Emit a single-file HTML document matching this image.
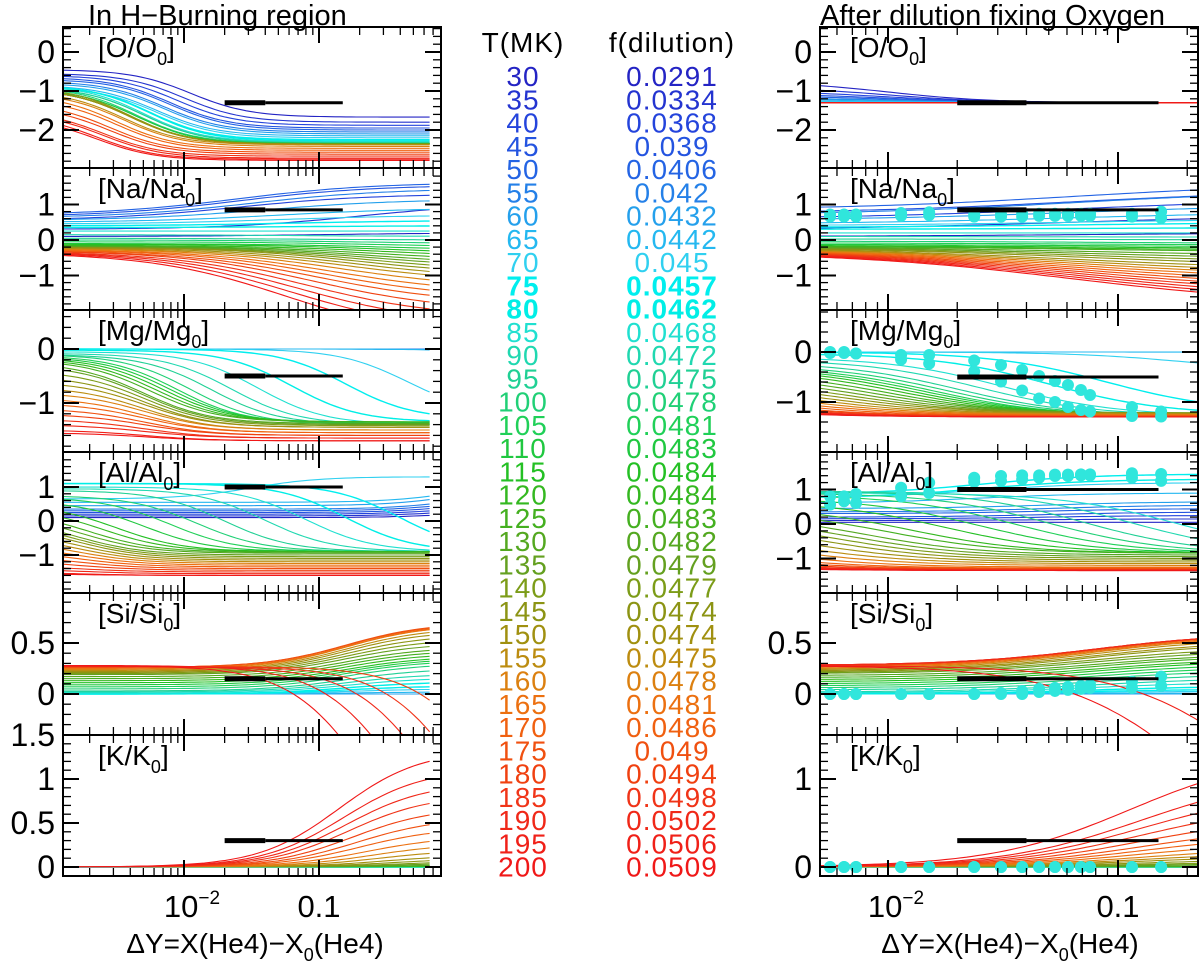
<!DOCTYPE html>
<html><head><meta charset="utf-8">
<style>
html,body{margin:0;padding:0;background:#fff;}
svg{display:block;font-family:"Liberation Sans",sans-serif;}
</style></head>
<body>
<svg id="chart" width="1200" height="969" viewBox="0 0 1200 969" xmlns="http://www.w3.org/2000/svg">
<text x="88" y="25" font-size="29">In H−Burning region</text>
<text x="820" y="25" font-size="29">After dilution fixing Oxygen</text>
<text x="523" y="52" font-size="28" text-anchor="middle" letter-spacing="1">T(MK)</text>
<text x="672" y="52" font-size="28" text-anchor="middle" letter-spacing="1">f(dilution)</text>
<text x="255" y="953" font-size="28" text-anchor="middle">ΔY=X(He4)−X<tspan font-size="18" dy="8">0</tspan><tspan dy="-8">(He4)</tspan></text>
<text x="1010" y="953" font-size="28" text-anchor="middle">ΔY=X(He4)−X<tspan font-size="18" dy="8">0</tspan><tspan dy="-8">(He4)</tspan></text>
<g id="root"></g>
</svg>
<script>
// ---- data ----
const temps = [30,35,40,45,50,55,60,65,70,75,80,85,90,95,100,105,110,115,120,125,130,135,140,145,150,155,160,165,170,175,180,185,190,195,200];
const fdil = ["0.0291","0.0334","0.0368","0.039","0.0406","0.042","0.0432","0.0442","0.045","0.0457","0.0462","0.0468","0.0472","0.0475","0.0478","0.0481","0.0483","0.0484","0.0484","0.0483","0.0482","0.0479","0.0477","0.0474","0.0474","0.0475","0.0478","0.0481","0.0486","0.049","0.0494","0.0498","0.0502","0.0506","0.0509"];
const colors = ["#2424c4","#2434d0","#2444dc","#2454e0","#2464e4","#2480e8","#24a0ec","#24b8f0","#30d0f0","#00eeee","#00eee6","#20e0d0","#20d8b0","#20d094","#20d076","#20d058","#20c840","#24c024","#34b820","#44b020","#54a820","#64a020","#7c9c18","#8c9414","#a09010","#bc8c10","#dc8010","#ec7010","#f06010","#f05010","#f04010","#f03418","#f02818","#f02018","#f01818"];

// left panels: start value, end value, transition centre (log10 ΔY)
const oS = [-0.45,-0.55,-0.6,-0.65,-0.7,-0.75,-0.8,-0.85,-0.9,-0.85,-0.85,-0.85,-0.9,-0.9,-0.9,-0.95,-0.95,-0.95,-0.95,-0.95,-0.95,-0.95,-0.95,-0.9,-0.95,-1.0,-1.05,-1.1,-1.2,-1.3,-1.4,-1.5,-1.55,-1.6,-1.67];
const oE = [-1.67,-1.8,-1.88,-1.95,-2.0,-2.05,-2.1,-2.15,-2.2,-2.25,-2.28,-2.3,-2.32,-2.33,-2.34,-2.35,-2.35,-2.35,-2.35,-2.36,-2.36,-2.36,-2.36,-2.36,-2.37,-2.38,-2.42,-2.47,-2.52,-2.57,-2.62,-2.67,-2.72,-2.75,-2.78];
const oC = [-1.95,-2.0,-2.05,-2.1,-2.1,-2.15,-2.15,-2.2,-2.2,-2.25,-2.25,-2.3,-2.3,-2.3,-2.35,-2.35,-2.35,-2.4,-2.4,-2.4,-2.4,-2.4,-2.4,-2.4,-2.4,-2.45,-2.45,-2.5,-2.5,-2.55,-2.55,-2.6,-2.6,-2.65,-2.65];
const naS = [0.1,0.3,0.55,0.65,0.7,0.62,0.55,0.5,0.45,0.4,0.35,0.25,0.15,0.05,0,-0.05,-0.1,-0.12,-0.15,-0.17,-0.18,-0.2,-0.2,-0.2,-0.22,-0.24,-0.25,-0.27,-0.28,-0.3,-0.3,-0.32,-0.33,-0.34,-0.35];
const naE = [0.2,1.05,1.3,1.55,1.62,1.45,1.15,0.9,0.7,0.55,0.4,0.25,0.1,0.0,-0.1,-0.2,-0.3,-0.4,-0.5,-0.6,-0.7,-0.8,-0.9,-1.0,-1.1,-1.2,-1.35,-1.5,-1.65,-1.8,-2.0,-2.2,-2.4,-2.6,-2.8];
const naC = [-1,-0.7,-1.6,-1.6,-1.6,-1.5,-1.4,-1.3,-1.3,-1.2,-1.2,-1.2,-1.2,-1.2,-0.8,-0.6,-0.5,-0.5,-0.5,-0.55,-0.6,-0.6,-0.65,-0.7,-0.75,-0.8,-0.85,-0.9,-0.95,-1.0,-1.05,-1.1,-1.15,-1.2,-1.25];
const mgS = [0,0,0,0,0,0,0,0,0,0,-0.02,-0.05,-0.08,-0.1,-0.1,-0.12,-0.14,-0.16,-0.18,-0.2,-0.25,-0.3,-0.4,-0.5,-0.6,-0.7,-0.8,-0.9,-1.0,-1.1,-1.2,-1.3,-1.4,-1.5,-1.55];
const mgE = [0,0,0,0,-0.01,-0.02,-0.03,-0.05,-1.2,-1.3,-1.35,-1.4,-1.4,-1.4,-1.4,-1.38,-1.36,-1.35,-1.35,-1.35,-1.38,-1.4,-1.42,-1.45,-1.45,-1.5,-1.5,-1.55,-1.55,-1.6,-1.6,-1.65,-1.65,-1.7,-1.7];
const mgC = [0,0,0,0,0,0,0,0,-0.35,-0.8,-1.2,-1.45,-1.65,-1.8,-1.95,-2.05,-2.1,-2.15,-2.2,-2.25,-2.3,-2.3,-2.3,-2.3,-2.3,-2.3,-2.3,-2.3,-2.3,-2.3,-2.3,-2.3,-2.3,-2.3,-2.3];
const alS = [0.1,0.15,0.2,0.25,0.3,0.35,0.45,0.55,0.65,1.1,1.1,1.0,0.95,0.9,0.75,0.7,0.6,0.5,0.4,0.3,0.2,0.1,0,-0.1,-0.25,-0.4,-0.55,-0.7,-0.85,-1.0,-1.15,-1.3,-1.4,-1.5,-1.55];
const alE = [0.3,0.4,0.5,0.6,0.7,0.8,1.0,1.1,1.3,-0.9,-0.9,-0.9,-0.9,-0.9,-0.9,-0.9,-0.9,-0.9,-0.9,-0.92,-0.95,-1.0,-1.05,-1.1,-1.15,-1.2,-1.25,-1.3,-1.35,-1.4,-1.45,-1.5,-1.55,-1.6,-1.6];
const alC = [0,0,0,0,0,0,0,0,-1.5,-0.4,-0.8,-1.1,-1.4,-1.7,-1.9,-2.1,-2.3,-2.5,-2.6,-2.7,-2.75,-2.8,-2.8,-2.8,-2.8,-2.8,-2.8,-2.8,-2.8,-2.8,-2.8,-2.8,-2.8,-2.8,-2.8];
const siS = [0,0,0,0,0,0,0,0,0,0,0,0.01,0.02,0.03,0.05,0.07,0.09,0.11,0.13,0.15,0.17,0.19,0.2,0.21,0.22,0.23,0.24,0.25,0.26,0.26,0.27,0.27,0.27,0.28,0.28];
const siE = [0,0,0,0,0,0,0,0.02,0.05,0.08,0.12,0.16,0.2,0.25,0.3,0.33,0.35,0.37,0.4,0.43,0.46,0.5,0.54,0.58,0.62,0.65,0.68,0.68,0.69,0.7,-2,-2,-2,-2,-2];
const siC = [-0.8,-0.8,-0.8,-0.8,-0.8,-0.8,-0.8,-0.8,-0.8,-0.8,-0.8,-0.8,-0.8,-0.8,-0.8,-0.8,-0.8,-0.8,-0.8,-0.8,-0.8,-0.8,-0.8,-0.8,-0.8,-0.8,-0.8,-0.8,-0.8,-0.8,0.35,0.1,-0.12,-0.36,-0.6];
const kE = [0,0,0,0,0,0,0,0,0,0,0,0,0,0,0,0.005,0.01,0.01,0.015,0.02,0.03,0.05,0.07,0.1,0.14,0.2,0.27,0.35,0.45,0.56,0.68,0.82,0.96,1.12,1.33];
const kC = [-0.5,-0.5,-0.5,-0.5,-0.5,-0.5,-0.5,-0.5,-0.5,-0.5,-0.5,-0.5,-0.5,-0.5,-0.5,-0.5,-0.5,-0.5,-0.5,-0.5,-0.3,-0.35,-0.4,-0.45,-0.5,-0.55,-0.6,-0.65,-0.7,-0.72,-0.75,-0.78,-0.8,-0.82,-0.85];

// right panels (after dilution)
const roS = [-0.75,-0.9,-1.0,-1.07,-1.12,-1.17,-1.2,-1.24,-1.27,-1.3,-1.3,-1.3,-1.3,-1.3,-1.3,-1.3,-1.3,-1.3,-1.3,-1.3,-1.3,-1.3,-1.3,-1.3,-1.3,-1.3,-1.3,-1.3,-1.3,-1.3,-1.3,-1.3,-1.3,-1.3,-1.3];
const roE = [-1.3,-1.3,-1.3,-1.3,-1.3,-1.3,-1.3,-1.3,-1.3,-1.3,-1.3,-1.3,-1.3,-1.3,-1.3,-1.3,-1.3,-1.3,-1.3,-1.3,-1.3,-1.3,-1.3,-1.3,-1.3,-1.3,-1.3,-1.3,-1.3,-1.3,-1.3,-1.3,-1.3,-1.3,-1.3];
const roC = [-2.0,-2.0,-2.0,-2.0,-2.0,-2.0,-2.0,-2.0,-2.0,-2.0,-2.0,-2.0,-2.0,-2.0,-2.0,-2.0,-2.0,-2.0,-2.0,-2.0,-2.0,-2.0,-2.0,-2.0,-2.0,-2.0,-2.0,-2.0,-2.0,-2.0,-2.0,-2.0,-2.0,-2.0,-2.0];
const rnaS = [0.1,0.3,0.6,0.75,0.85,0.7,0.55,0.45,0.4,0.35,0.3,0.2,0.1,0.03,-0.03,-0.08,-0.12,-0.15,-0.17,-0.18,-0.19,-0.2,-0.21,-0.22,-0.23,-0.24,-0.25,-0.26,-0.27,-0.28,-0.29,-0.3,-0.31,-0.32,-0.33];
const rnaE = [0.2,0.7,1.15,1.4,1.6,1.4,1.0,0.8,0.6,0.5,0.35,0.2,0.08,0.0,-0.1,-0.15,-0.2,-0.25,-0.3,-0.35,-0.45,-0.55,-0.65,-0.75,-0.85,-0.95,-1.05,-1.15,-1.25,-1.35,-1.45,-1.55,-1.65,-1.75,-1.85];
const rnaC = [-1.2,-1.2,-1.2,-1.2,-1.2,-1.2,-1.2,-1.2,-1.2,-1.2,-1.2,-1.2,-1.2,-1.2,-1.1,-1.1,-1.1,-1.1,-1.1,-1.1,-1.15,-1.15,-1.15,-1.15,-1.2,-1.2,-1.2,-1.2,-1.2,-1.2,-1.2,-1.2,-1.2,-1.2,-1.2];
const rmgS = [0,0,0,0,0,0,0,0,0,0,-0.03,-0.1,-0.15,-0.2,-0.25,-0.28,-0.3,-0.32,-0.35,-0.4,-0.45,-0.5,-0.55,-0.6,-0.65,-0.7,-0.75,-0.8,-0.85,-0.9,-0.95,-1.0,-1.05,-1.1,-1.15];
const rmgE = [0,0,0,0,0,0,0,-0.05,-0.4,-1.2,-1.25,-1.28,-1.28,-1.28,-1.28,-1.28,-1.26,-1.25,-1.24,-1.23,-1.22,-1.22,-1.22,-1.22,-1.23,-1.24,-1.25,-1.26,-1.27,-1.28,-1.29,-1.3,-1.3,-1.3,-1.3];
const rmgC = [0,0,0,0,0,0,0,0,-0.7,-1.05,-1.3,-1.5,-1.6,-1.7,-1.75,-1.8,-1.85,-1.9,-1.95,-2.0,-2.05,-2.1,-2.15,-2.2,-2.25,-2.3,-2.35,-2.4,-2.45,-2.5,-2.5,-2.5,-2.5,-2.5,-2.5];
const ralS = [0.05,0.1,0.15,0.2,0.3,0.35,0.45,0.6,0.75,0.85,0.75,0.9,0.95,0.95,0.9,0.85,0.75,0.65,0.5,0.4,0.3,0.2,0.1,0,-0.15,-0.3,-0.45,-0.6,-0.75,-0.9,-1.0,-1.1,-1.15,-1.2,-1.25];
const ralE = [0.05,0.15,0.25,0.35,0.45,0.55,0.65,0.9,1.2,1.45,1.3,-0.85,-0.85,-0.85,-0.85,-0.85,-0.85,-0.85,-0.85,-0.85,-0.9,-0.95,-1.0,-1.05,-1.1,-1.15,-1.2,-1.25,-1.28,-1.3,-1.32,-1.33,-1.34,-1.35,-1.35];
const ralC = [-1.3,-1.3,-1.3,-1.3,-1.3,-1.3,-1.3,-1.6,-1.6,-1.6,-1.6,-0.75,-0.95,-1.15,-1.3,-1.45,-1.6,-1.75,-1.9,-2.0,-2.1,-2.15,-2.2,-2.25,-2.3,-2.35,-2.4,-2.45,-2.5,-2.5,-2.5,-2.5,-2.5,-2.5,-2.5];
const rsiS = [0,0,0,0,0,0,0,0,0,0,0,0.01,0.02,0.04,0.06,0.08,0.1,0.12,0.14,0.16,0.18,0.2,0.21,0.22,0.23,0.24,0.25,0.26,0.27,0.27,0.28,0.28,0.28,0.28,0.28];
const rsiE = [0,0,0,0,0,0,0,0.01,0.03,0.05,0.08,0.12,0.16,0.2,0.24,0.27,0.3,0.33,0.35,0.38,0.4,0.43,0.46,0.5,0.52,0.55,0.57,0.58,0.59,0.6,0.6,0.6,0.6,-2.0,-2.0];
const rsiC = [-1.1,-1.1,-1.1,-1.1,-1.1,-1.1,-1.1,-1.1,-1.1,-1.1,-1.1,-1.1,-1.1,-1.1,-1.1,-1.1,-1.1,-1.1,-1.1,-1.1,-1.1,-1.1,-1.1,-1.1,-1.1,-1.1,-1.1,-1.1,-1.1,-1.1,-1.1,-1.1,-1.1,-0.3,-0.6];
const rkE = [0,0,0,0,0,0,0,0,0,0,0,0,0,0,0,0,0,0,0,0,0.02,0.04,0.06,0.09,0.13,0.17,0.22,0.29,0.37,0.46,0.58,0.72,0.88,1.06,1.3];
const rkC = [-0.9,-0.9,-0.9,-0.9,-0.9,-0.9,-0.9,-0.9,-0.9,-0.9,-0.9,-0.9,-0.9,-0.9,-0.9,-0.9,-0.9,-0.9,-0.9,-0.9,-0.9,-0.9,-0.9,-0.9,-0.9,-0.9,-0.9,-0.9,-0.9,-0.9,-0.9,-0.9,-0.9,-0.9,-0.95];

// observational dots (right panels)
const dotX = [0.0056,0.00644,0.00726,0.0114,0.0151,0.0237,0.031,0.0383,0.0454,0.0532,0.0606,0.069,0.0756,0.115,0.154];
const naDotA = [0.72,0.72,0.72,0.76,0.78,0.72,0.72,0.74,0.74,0.74,0.74,0.74,0.74,0.74,0.8];
const naDotB = [0.66,0.66,0.66,0.68,0.7,0.66,0.66,0.66,0.68,0.68,0.68,0.68,0.68,0.66,0.62];
const mgDotA = [0,0,-0.03,-0.06,-0.06,-0.17,-0.26,-0.36,-0.48,-0.58,-0.66,-0.76,-0.86,-1.1,-1.19];
const mgDotB = [-0.02,-0.02,-0.03,-0.15,-0.23,-0.39,-0.59,-0.77,-0.93,-1.0,-1.1,-1.16,-1.19,-1.28,-1.29];
const alDotA = [0.8,0.8,0.87,1.05,1.2,1.34,1.39,1.41,1.41,1.43,1.43,1.44,1.44,1.47,1.45];
const alDotB = [0.56,0.66,0.61,0.8,0.9,1.22,1.25,1.29,1.34,1.39,1.39,1.41,1.41,1.34,1.25];
const siDotA = [0,0,0,0,0,0,0.01,0.03,0.05,0.06,0.07,0.08,0.09,0.12,0.17];
const siDotB = [0,0,0,0,0,0,0,0,0.02,0.03,0.04,0.05,0.06,0.06,0.08];
const kDotA = [0,0,0,0,0,0,0,0,0,0,0,0,0,0,0];
const kDotB = [0,0,0,0,0,0,0,0,0,0,0,0,0,0,0];

// reference bars: x range [thick start, thick end, thin end], y per element
const barX = [0.02, 0.04, 0.15];
const barY = [-1.3, 0.85, -0.5, 1.0, 0.15, 0.3];

// ---- layout ----
const NS = "http://www.w3.org/2000/svg";
const root = document.getElementById('root');
function mk(tag, attrs, parent){ const e=document.createElementNS(NS,tag); for(const k in attrs) e.setAttribute(k,attrs[k]); (parent||root).appendChild(e); return e; }

const rowTop = [27,168,310,452,593,735,876];
const elems = ["O","Na","Mg","Al","Si","K"];
const yZero = {L:[52,240,349,521,694,867], R:[52,240,352,524,694,867]};
const yK = {L:[39,35.5,54,34,102,88], R:[39,35.5,50,34.5,102,88]};
const yMajor = {L:[[0,-1,-2],[1,0,-1],[0,-1],[1,0,-1],[0.5,0],[1.5,1,0.5,0]], R:[[0,-1,-2],[1,0,-1],[0,-1],[1,0,-1],[0.5,0],[1,0]]};
const yMinorStep = [0.2,0.2,0.2,0.2,0.1,0.1];
const side = {
  L:{x0:63,x1:441,d0:184,dk:135,lmin:Math.log10(0.00127),lmax:Math.log10(0.66)},
  R:{x0:820,x1:1198,d0:888,dk:230,lmin:Math.log10(0.00506),lmax:Math.log10(0.227)}
};
const widths = [0.22,0.5,0.25,0.25,0.3,0.3];
const leftData = [[oS,oE,oC],[naS,naE,naC],[mgS,mgE,mgC],[alS,alE,alC],[siS,siE,siC],[null,kE,kC]];
const rightData = [[roS,roE,roC],[rnaS,rnaE,rnaC],[rmgS,rmgE,rmgC],[ralS,ralE,ralC],[rsiS,rsiE,rsiC],[null,rkE,rkC]];
const rightDots = [null,[naDotA,naDotB],[mgDotA,mgDotB],[alDotA,alDotB],[siDotA,siDotB],[kDotA,kDotB]];

function xPx(s, v){ return side[s].d0 + (Math.log10(v)+2)*side[s].dk; }
function yPx(s, r, v){ return yZero[s][r] - v*yK[s][r]; }
function sig(L,a,b,c,w){ return a+(b-a)/(1+Math.exp(-(L-c)/w)); }
function fmt(v){ return (v<0?"−":"")+String(Math.abs(v)); }

let clipId = 0;
['L','R'].forEach(s=>{
  const S = side[s];
  const data = s==='L'?leftData:rightData;
  for(let r=0;r<6;r++){
    const top=rowTop[r], bot=rowTop[r+1];
    const g = mk('g',{});
    
    
    const cid='clip'+(clipId++);
    const cp = mk('clipPath',{id:cid},g);
    mk('rect',{x:S.x0,y:top,width:S.x1-S.x0,height:bot-top},cp);
    const lines = mk('g',{'clip-path':'url(#'+cid+')'},g);
    const [A,B,C] = data[r];
    for(let i=0;i<temps.length;i++){
      const a = A?A[i]:0;
      let d='';
      const n=70;
      for(let j=0;j<=n;j++){
        const L = S.lmin + (S.lmax-S.lmin)*j/n;
        const v = sig(L,a,B[i],C[i],widths[r]);
        d += (j?'L':'M')+(S.d0+(L+2)*S.dk).toFixed(1)+','+yPx(s,r,v).toFixed(1);
      }
      const p = mk('path',{d:d,fill:'none',stroke:colors[i],'stroke-width':(i===9||i===10)?1.4:1.1},lines);
      
      
    }
    if(s==='R' && rightDots[r]){
      rightDots[r].forEach((arr,k)=>{
        for(let j=0;j<dotX.length;j++){
          const c = mk('circle',{cx:xPx(s,dotX[j]),cy:yPx(s,r,arr[j]),r:6,fill:'#30e6dc'},lines);
          
          
        }
      });
    }
    const by = yPx(s,r,barY[r]);
    const b1 = mk('line',{x1:xPx(s,barX[0]),x2:xPx(s,barX[1]),y1:by,y2:by,stroke:'#000','stroke-width':5},g);
    
    
    const b2 = mk('line',{x1:xPx(s,barX[1]),x2:xPx(s,barX[2]),y1:by,y2:by,stroke:'#000','stroke-width':3},g);
    
    
    mk('rect',{x:S.x0,y:top,width:S.x1-S.x0,height:bot-top,fill:'none',stroke:'#000','stroke-width':2},g);
    for(let dec=-4;dec<=0;dec++){
      for(let m=1;m<=9;m++){
        const L = dec+Math.log10(m);
        const px = S.d0+(L+2)*S.dk;
        if(px<=S.x0+1||px>=S.x1-1) continue;
        const len = m===1?16:8;
        mk('line',{x1:px,x2:px,y1:top,y2:top+len,stroke:'#000','stroke-width':m===1?2:1.3},g);
        mk('line',{x1:px,x2:px,y1:bot,y2:bot-len,stroke:'#000','stroke-width':m===1?2:1.3},g);
      }
    }
    const k=yK[s][r], z=yZero[s][r];
    const vmin=(z-bot)/k, vmax=(z-top)/k, st=yMinorStep[r];
    for(let v=Math.ceil(vmin/st)*st; v<=vmax+1e-9; v+=st){
      const py=z-v*k;
      if(py<=top+1||py>=bot-1) continue;
      const maj = yMajor[s][r].some(m=>Math.abs(m-v)<1e-6);
      const len = maj?16:8;
      mk('line',{x1:S.x0,x2:S.x0+len,y1:py,y2:py,stroke:'#000','stroke-width':maj?2:1.3},g);
      mk('line',{x1:S.x1,x2:S.x1-len,y1:py,y2:py,stroke:'#000','stroke-width':maj?2:1.3},g);
    }
    yMajor[s][r].forEach(v=>{
      const t = mk('text',{x:S.x0-8,y:z-v*k+11,'font-size':32,'text-anchor':'end'},g);
      t.textContent = fmt(v);
      
      
    });
    const el = mk('text',{x:S.x0+(s==='L'?35:30),y:top+30,'font-size':28},g);
    
    
    el.appendChild(document.createTextNode('['+elems[r]+'/'+elems[r]));
    const sub = mk('tspan',{'font-size':18,dy:8},el); sub.textContent='0';
    const cl = mk('tspan',{dy:-8},el); cl.textContent=']';
  }
  const t1 = mk('text',{x:S.d0+8,y:917,'font-size':31,'text-anchor':'middle'});
  
  
  t1.appendChild(document.createTextNode('10'));
  const sp = mk('tspan',{'font-size':19,dy:-13},t1); sp.textContent='−2';
  const t2 = mk('text',{x:S.d0+S.dk,y:917,'font-size':31,'text-anchor':'middle'});
  t2.textContent='0.1';
  
  
});

for(let i=0;i<temps.length;i++){
  const y = 76 + i*23.25 + 10;
  const bold = (temps[i]===75||temps[i]===80);
  const a = mk('text',{x:523,y:y,'font-size':28,'text-anchor':'middle',fill:colors[i],'font-weight':bold?'bold':'normal','letter-spacing':1});
  a.textContent = temps[i];
  
  
  const b = mk('text',{x:672,y:y,'font-size':28,'text-anchor':'middle',fill:colors[i],'font-weight':bold?'bold':'normal','letter-spacing':1});
  b.textContent = fdil[i];
  
  
}
</script>
</body></html>
